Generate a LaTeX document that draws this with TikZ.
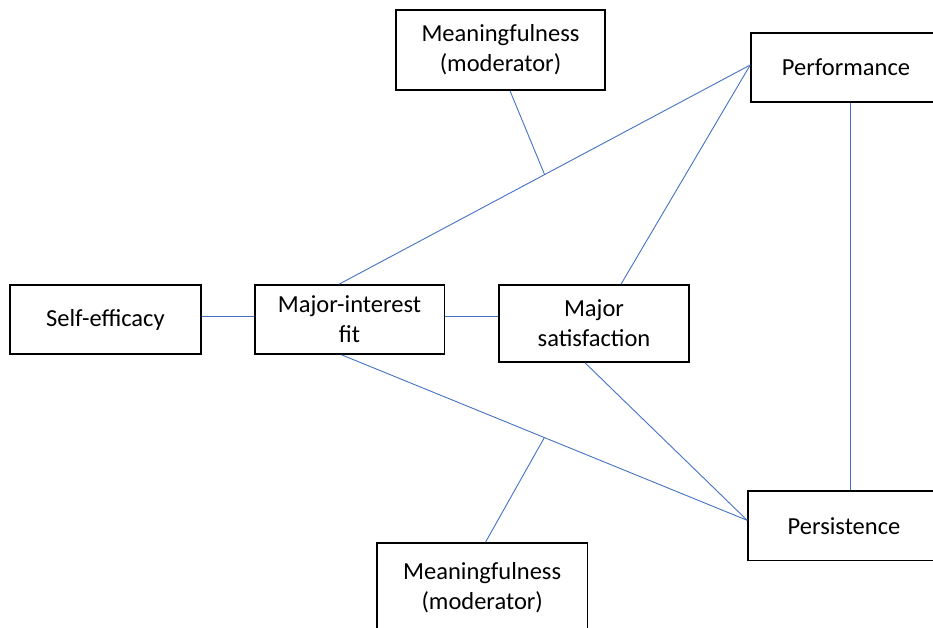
\documentclass[tikz,border=0pt]{standalone}
\usepackage{fontspec}
\setmainfont{Carlito}
\definecolor{linkblue}{RGB}{68,114,196}
\begin{document}
\begin{tikzpicture}[x=1pt,y=-1pt,
  box/.style={draw=black, line width=1.6pt, inner sep=0pt, align=center,
    font=\fontsize{24.5}{30}\selectfont},
  link/.style={draw=linkblue, line width=0.9pt}]
\useasboundingbox (0,0) rectangle (933,627);
\clip (0,0) rectangle (933,627);
\node[box, minimum width=209pt, minimum height=80pt] (mtop) at (500.5,50) {Meaningfulness\\(moderator)};
\node[box, minimum width=190pt, minimum height=69pt] (perf) at (846,67.5) {Performance};
\node[box, minimum width=190.7pt, minimum height=69pt] (self) at (105.4,319.5) {Self-efficacy};
\node[box, minimum width=189.6pt, minimum height=69pt] (mif) at (349.5,319.5) {Major-interest\\fit};
\node[box, minimum width=190pt, minimum height=77pt] (ms) at (594,323.5) {Major\\satisfaction};
\node[box, minimum width=192pt, minimum height=69.7pt] (pers) at (844,525.8) {Persistence};
\node[box, minimum width=210.5pt, minimum height=90pt] (mbot) at (482.2,588) {Meaningfulness\\(moderator)};
\draw[link] ([yshift=3.5pt]self.east) -- ([yshift=3.5pt]mif.west);
\draw[link] ([yshift=3.5pt]mif.east) -- ([yshift=7.5pt]ms.west);
\draw[link] ([xshift=-10.5pt]mif.north) -- coordinate[pos=0.5] (ma) ([yshift=2.5pt]perf.west);
\draw[link] ([xshift=27pt]ms.north) -- ([yshift=2.5pt]perf.west);
\draw[link] ([xshift=4pt]perf.south) -- ([xshift=6pt]pers.north);
\draw[link] ([xshift=-8pt]mif.south) -- coordinate[pos=0.5] (mb) ([yshift=5.5pt]pers.west);
\draw[link] ([xshift=-9pt]ms.south) -- ([yshift=5.5pt]pers.west);
\draw[link] ([xshift=9.5pt]mtop.south) -- (ma);
\draw[link] ([xshift=3.3pt]mbot.north) -- (mb);
\end{tikzpicture}
\end{document}
